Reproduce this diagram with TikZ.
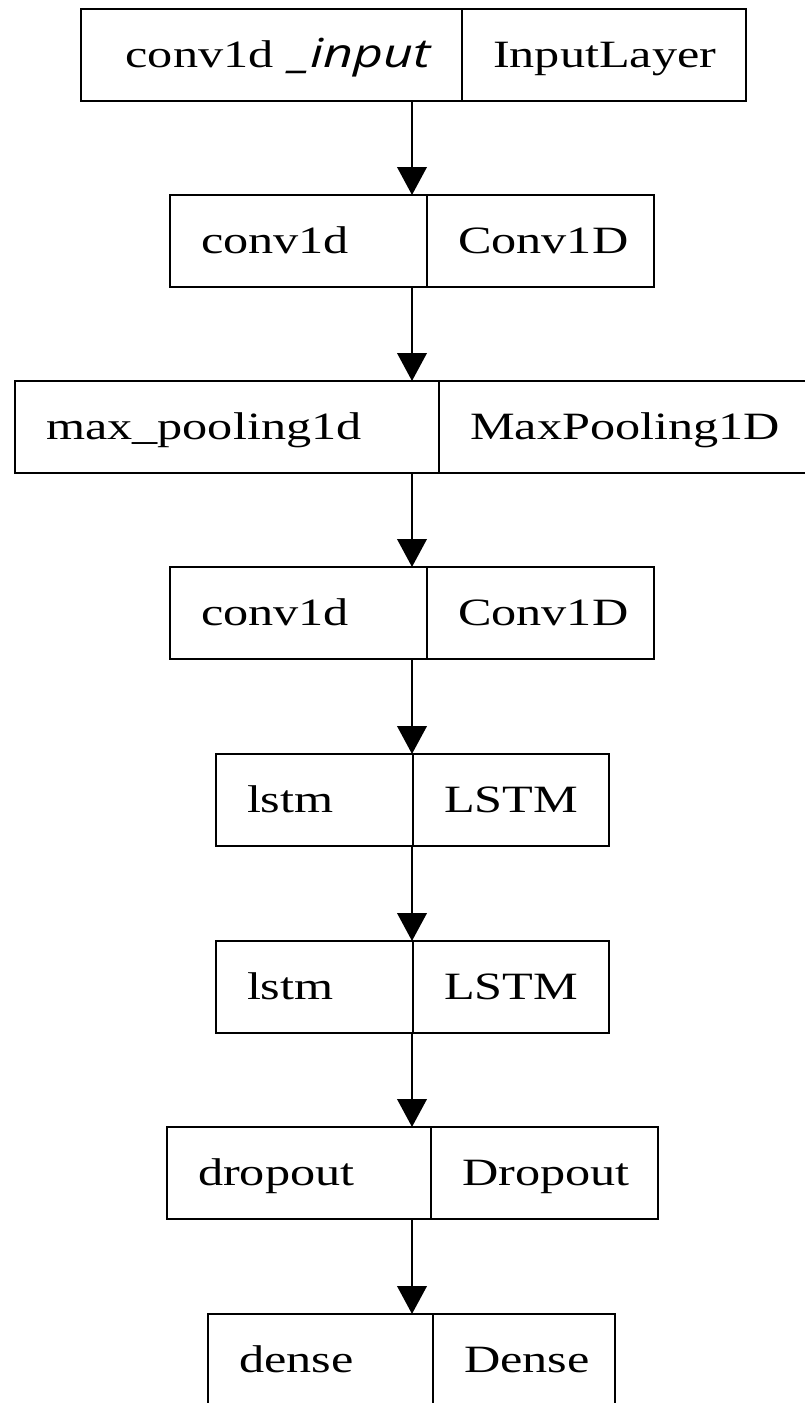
\documentclass[tikz,border=0pt]{standalone}
\usepackage{graphicx}
\usepackage{fontspec}
\setmainfont{Liberation Serif}
\newfontfamily\inputfont{Open Sans}
\usetikzlibrary{arrows.meta}
\newcommand{\wide}[1]{\scalebox{1.3}[1]{#1}}

\begin{document}
\begin{tikzpicture}[x=0.75pt, y=-0.75pt,
    every node/.style={draw, rectangle, line width=2.2pt, outer sep=0pt,
      inner xsep=23.25pt, minimum height=69pt, text height=19pt, text depth=0pt,
      font=\fontsize{29}{34}\selectfont},
    lpart/.style={anchor=north east, text width=#1, align=left},
    rpart/.style={anchor=north west, text width=#1, align=center},
    flow/.style={line width=2.2pt, -{Triangle[length=21pt, width=22pt]}}]

  \useasboundingbox (0,0) rectangle (804,1403);
  \coordinate (ax) at (412,0);

  % Input layer
  \node[lpart=239.25pt, align=right] (inpl) at (462,9)
    {\wide{conv1d {\inputfont\fontsize{30}{34}\selectfont\itshape\_input}}};
  \node[rpart=166.5pt] (inpr) at (462,9) {\wide{InputLayer}};

  % First convolution
  \node[lpart=146.25pt] (c1l) at (427,195) {\wide{conv1d}};
  \node[rpart=123.75pt] (c1r) at (427,195) {\wide{Conv1D}};

  % Pooling
  \node[lpart=271.5pt] (mpl) at (439,381) {\wide{max\_pooling1d}};
  \node[rpart=231.75pt] (mpr) at (439,381) {\wide{MaxPooling1D}};

  % Second convolution
  \node[lpart=146.25pt] (c2l) at (427,567) {\wide{conv1d}};
  \node[rpart=123.75pt] (c2r) at (427,567) {\wide{Conv1D}};

  % LSTM layers
  \node[lpart=101.25pt] (l1l) at (413,754) {\wide{lstm}};
  \node[rpart=100.5pt] (l1r) at (413,754) {\wide{LSTM}};
  \node[lpart=101.25pt] (l2l) at (413,941) {\wide{lstm}};
  \node[rpart=100.5pt] (l2r) at (413,941) {\wide{LSTM}};

  % Dropout and output
  \node[lpart=151.5pt] (dol) at (431,1127) {\wide{dropout}};
  \node[rpart=123.75pt] (dor) at (431,1127) {\wide{Dropout}};
  \node[lpart=122.25pt] (del) at (433,1314) {\wide{dense}};
  \node[rpart=90pt] (der) at (433,1314) {\wide{Dense}};

  % Connections
  \foreach \a/\b in {inpl/c1l, c1l/mpl, mpl/c2l, c2l/l1l, l1l/l2l, l2l/dol, dol/del}
    \draw[flow] (\a.south -| ax) -- (\b.north -| ax);
\end{tikzpicture}
\end{document}
